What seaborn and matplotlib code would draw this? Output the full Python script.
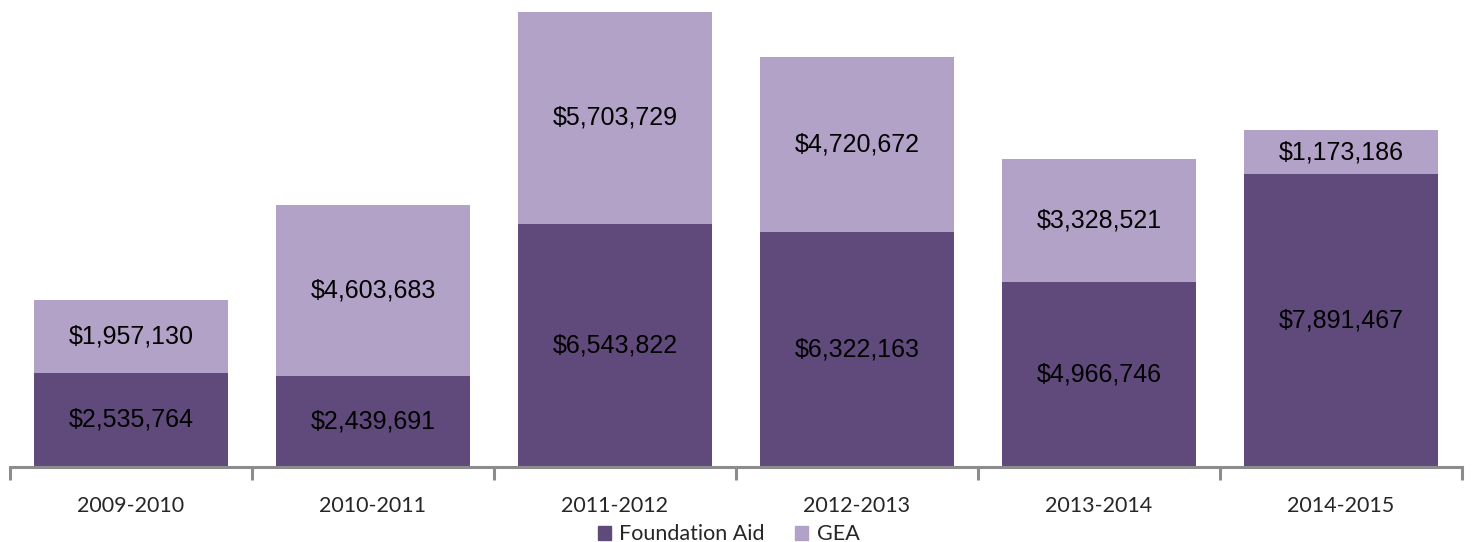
import matplotlib
matplotlib.use("Agg")
import matplotlib.pyplot as plt
import seaborn as sns
import pandas as pd
import numpy as np
from matplotlib.patches import Patch

# -------------------------------------------------
# Data
# -------------------------------------------------
years = ["2009-2010", "2010-2011", "2011-2012", "2012-2013", "2013-2014", "2014-2015"]
foundation_aid = [2535764, 2439691, 6543822, 6322163, 4966746, 7891467]
gea = [1957130, 4603683, 5703729, 4720672, 3328521, 1173186]

dark = "#604a7b"
light = "#b3a2c7"

df = pd.DataFrame({"year": years, "foundation": foundation_aid, "gea": gea})
df["total"] = df["foundation"] + df["gea"]

sns.set_style("white")
plt.rcParams["font.family"] = ["Liberation Sans", "DejaVu Sans"]

fig = plt.figure(figsize=(14.72, 5.42), dpi=100)
ax = fig.add_axes([10 / 1472, 75 / 542, 1452 / 1472, 467 / 542])

# Stacked bars: total (GEA on top) first, then Foundation Aid over it
sns.barplot(data=df, x="year", y="total", color=light, saturation=1,
            width=0.8, linewidth=0, ax=ax)
sns.barplot(data=df, x="year", y="foundation", color=dark, saturation=1,
            width=0.8, linewidth=0, ax=ax)

# Value labels centred in each segment
for i, row in df.iterrows():
    ax.text(i, row["foundation"] / 2, f"${row['foundation']:,}",
            ha="center", va="center", fontsize=18, color="black")
    ax.text(i, row["foundation"] + row["gea"] / 2, f"${row['gea']:,}",
            ha="center", va="center", fontsize=18, color="black")

# Axis formatting
ax.set_xlim(-0.5, len(years) - 0.5)
ax.set_ylim(0, 12.57e6)
ax.set_xlabel("")
ax.set_ylabel("")
ax.set_yticks([])
for side in ["top", "right", "left"]:
    ax.spines[side].set_visible(False)
ax.spines["bottom"].set_color("#8c8c8c")
ax.spines["bottom"].set_linewidth(2.2)

ax.set_xticks(np.arange(len(years)))
ax.set_xticklabels(years, fontsize=15.5, family=["Lato", "DejaVu Sans"])
ax.tick_params(axis="x", which="major", bottom=True, length=0, pad=21)
ax.set_xticks(np.arange(-0.5, len(years)), minor=True)
ax.tick_params(axis="x", which="minor", bottom=True, length=9, width=2.2,
               color="#8c8c8c", direction="out")

# Legend below the axis
handles = [Patch(color=dark, label="Foundation Aid"),
           Patch(color=light, label="GEA")]
fig.legend(handles=handles, loc="lower center", bbox_to_anchor=(0.495, -0.04),
           ncol=2, frameon=False, handlelength=0.6, handleheight=0.6,
           handletextpad=0.4, columnspacing=1.4,
           prop={"family": ["Lato", "DejaVu Sans"], "size": 15.5})

fig.savefig("out.png", dpi=100)
